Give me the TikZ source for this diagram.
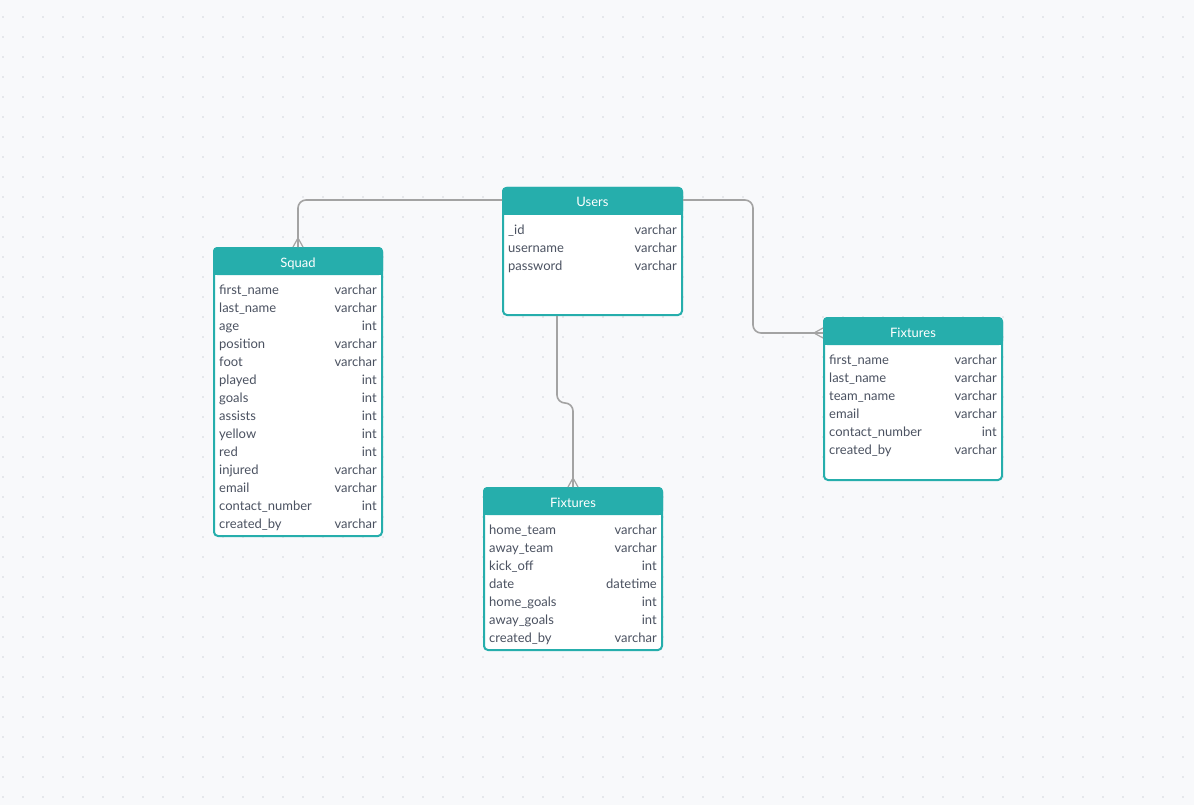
\documentclass[tikz,border=0pt]{standalone}
\usepackage{fontspec}
\setmainfont{Lato}
\usetikzlibrary{calc}
\definecolor{erdbg}{HTML}{F8F9FB}
\definecolor{erddot}{HTML}{D3D6DB}
\definecolor{erdteal}{HTML}{26AEAC}
\definecolor{erdtext}{HTML}{4B5261}
\definecolor{erdline}{HTML}{A3A3A3}

\begin{document}
\begin{tikzpicture}[x=1pt,y=-1pt,
	tabela/.style={draw=erdteal, line width=2pt, fill=white, rounded corners=4pt, anchor=north west, inner sep=0pt},
	titulo/.style={text=white, font=\fontsize{13}{15}\selectfont, anchor=base, inner sep=0pt},
	campo/.style={text=erdtext, font=\fontsize{13}{15}\selectfont, anchor=base west, inner sep=0pt},
	tipo/.style={campo, anchor=base east},
	ligacao/.style={draw=erdline, line width=1.6pt, rounded corners=8pt},
	pata/.style={draw=erdline, line width=1.2pt}]
			%fundo com pontos
			\fill[erdbg] (0,0) rectangle (1194,805);
			\useasboundingbox (0,0) rectangle (1194,805);
			\foreach \i in {0,...,59}
				\foreach \j in {0,...,39}
					\fill[erddot] (3+20*\i,17+20*\j) circle (0.9pt);
			
			%desenhando as caixas
			\node[tabela, minimum width=179pt, minimum height=127pt] (users) at (502,187) {};
			\node[tabela, minimum width=168pt, minimum height=288pt] (squad) at (213,247) {};
			\node[tabela, minimum width=178pt, minimum height=162pt] (fixr) at (823,317) {};
			\node[tabela, minimum width=178pt, minimum height=162pt] (fixb) at (483,487) {};
			
			%desenhando os cabecalhos
			\foreach \t/\n in {users/Users, squad/Squad, fixr/Fixtures, fixb/Fixtures}{
				\fill[erdteal, rounded corners=4pt] (\t.north west) rectangle ([yshift=-28pt]\t.north east);
				\fill[erdteal] ([yshift=-20pt]\t.north west) rectangle ([yshift=-28pt]\t.north east);
				\node[titulo] (\t-h) at ([yshift=-20pt]\t.north) {\n};
			}
			
			%campos da tabela Users
			\foreach \c/\d [count=\i] in {\_id/varchar, username/varchar, password/varchar}{
				\node[campo] (users-c\i) at ([xshift=6pt, yshift={-29pt-18pt*\i}]users.north west) {\c};
				\node[tipo] (users-t\i) at ([xshift=-6pt, yshift={-29pt-18pt*\i}]users.north east) {\d};
			}
			
			%campos da tabela Squad
			\foreach \c/\d [count=\i] in {first\_name/varchar, last\_name/varchar, age/int, position/varchar, foot/varchar, played/int, goals/int, assists/int, yellow/int, red/int, injured/varchar, email/varchar, contact\_number/int, created\_by/varchar}{
				\node[campo] (squad-c\i) at ([xshift=6pt, yshift={-29pt-18pt*\i}]squad.north west) {\c};
				\node[tipo] (squad-t\i) at ([xshift=-6pt, yshift={-29pt-18pt*\i}]squad.north east) {\d};
			}
			
			%campos da tabela Fixtures da direita
			\foreach \c/\d [count=\i] in {first\_name/varchar, last\_name/varchar, team\_name/varchar, email/varchar, contact\_number/int, created\_by/varchar}{
				\node[campo] (fixr-c\i) at ([xshift=6pt, yshift={-29pt-18pt*\i}]fixr.north west) {\c};
				\node[tipo] (fixr-t\i) at ([xshift=-6pt, yshift={-29pt-18pt*\i}]fixr.north east) {\d};
			}
			
			%campos da tabela Fixtures de baixo
			\foreach \c/\d [count=\i] in {home\_team/varchar, away\_team/varchar, kick\_off/int, date/datetime, home\_goals/int, away\_goals/int, created\_by/varchar}{
				\node[campo] (fixb-c\i) at ([xshift=6pt, yshift={-29pt-18pt*\i}]fixb.north west) {\c};
				\node[tipo] (fixb-t\i) at ([xshift=-6pt, yshift={-29pt-18pt*\i}]fixb.north east) {\d};
			}
			
			%desenhando as ligacoes
			\coordinate (fixr-in) at ([yshift=-16pt]fixr.north west);
			\draw[ligacao] ([yshift=-13pt]users.north west) -| (squad.north);
			\draw[ligacao] ([yshift=-13pt]users.north east) -| ($(users.north east)!0.5!(fixr.north west)$) |- (fixr-in);
			\draw[ligacao] ([xshift=-35.5pt]users.south) -- ++(0,87) -| (fixb.north);
			
			%marcando os pes de galinha
			\draw[pata] ([xshift=-5pt]squad.north) -- ([yshift=9pt]squad.north) -- ([xshift=5pt]squad.north);
			\draw[pata] ([xshift=-5pt]fixb.north) -- ([yshift=9pt]fixb.north) -- ([xshift=5pt]fixb.north);
			\draw[pata] ([yshift=5pt]fixr-in) -- ([xshift=-9pt]fixr-in) -- ([yshift=-5pt]fixr-in);
		\end{tikzpicture}
\end{document}
